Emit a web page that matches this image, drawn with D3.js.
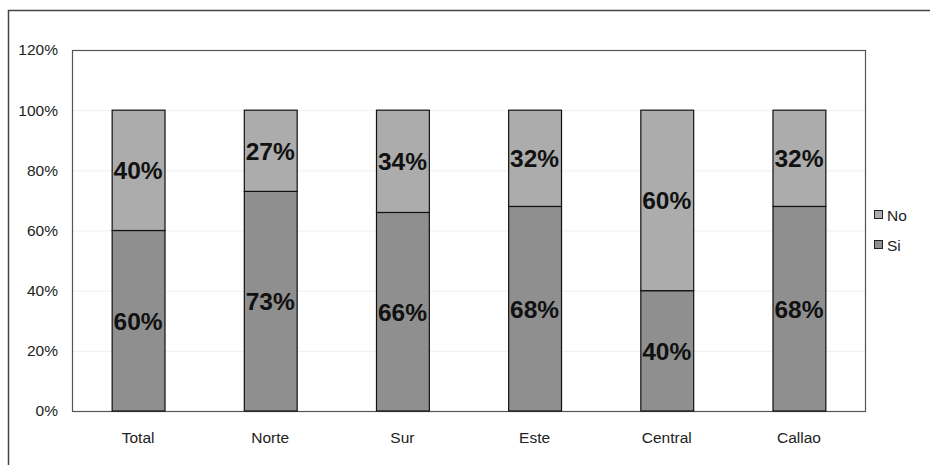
<!DOCTYPE html>
<html>
<head>
<meta charset="utf-8">
<script src="https://cdn.jsdelivr.net/npm/d3@7"></script>
<style>
  body { margin: 0; background: #fff; }
  svg { display: block; font-family: Arial, "Liberation Sans", sans-serif; }
</style>
</head>
<body>
<svg id="chart" width="930" height="465"></svg>
<script>
const categories = ['Total', 'Norte', 'Sur', 'Este', 'Central', 'Callao'];
const si = [60, 73, 66, 68, 40, 68];
const no = [40, 27, 34, 32, 60, 32];
const yTicks = [0, 20, 40, 60, 80, 100, 120];
const seriesNames = ['No', 'Si'];

const width = 930, height = 465;
const margin = {left: 72, right: 65, top: 50, bottom: 54};

let svg = d3.select('#chart');

// outer frame
svg.append('path')
    .attr('d', `M8.5,${height} V10.5 H${width}`)
    .attr('fill', 'none')
    .attr('stroke', '#444')
    .attr('stroke-width', 1.5);

let X = d3.scaleBand()
    .domain(categories)
    .range([margin.left, width - margin.right])
    .paddingInner(0.6)
    .paddingOuter(0.3);
let Y = d3.scaleLinear()
    .domain([0, 120])
    .range([height - margin.bottom, margin.top]);

// faint grid
svg.append('g').selectAll('line')
    .data(yTicks.slice(1, -1))
    .join('line')
    .attr('x1', margin.left)
    .attr('x2', width - margin.right)
    .attr('y1', d => Y(d) + 0.5)
    .attr('y2', d => Y(d) + 0.5)
    .attr('stroke', '#efefef');

// plot area box
svg.append('rect')
    .attr('x', margin.left + 0.5)
    .attr('y', Y(120) + 0.5)
    .attr('width', width - margin.right - margin.left)
    .attr('height', Y(0) - Y(120))
    .attr('fill', 'none')
    .attr('stroke', '#555')
    .attr('stroke-width', 1.2);

let yAxis = d3.axisLeft(Y).tickValues(yTicks).tickSize(0).tickPadding(14).tickFormat(d => d + '%');
svg.append('g')
    .attr('transform', `translate(${margin.left},0)`)
    .call(yAxis)
    .call(g => g.select('.domain').remove())
    .selectAll('text')
    .attr('font-size', 15.5)
    .attr('fill', '#222')
    .attr('font-family', 'Arial, "Liberation Sans", sans-serif');

let xAxis = d3.axisBottom(X).tickSize(0).tickPadding(21);
svg.append('g')
    .attr('transform', `translate(0,${Y(0)})`)
    .call(xAxis)
    .call(g => g.select('.domain').remove())
    .selectAll('text')
    .attr('font-size', 15.5)
    .attr('fill', '#222')
    .attr('font-family', 'Arial, "Liberation Sans", sans-serif');

const siColor = '#8f8f8f', noColor = '#acacac';

let bars = svg.append('g').selectAll('g')
    .data(categories.map((c, i) => ({c, si: si[i], no: no[i]})))
    .join('g');

bars.append('rect')
    .attr('x', d => X(d.c) + 0.5)
    .attr('y', d => Y(d.si))
    .attr('width', X.bandwidth())
    .attr('height', d => Y(0) - Y(d.si))
    .attr('fill', siColor)
    .attr('stroke', '#111')
    .attr('stroke-width', 1.2);
bars.append('rect')
    .attr('x', d => X(d.c) + 0.5)
    .attr('y', d => Y(d.si + d.no))
    .attr('width', X.bandwidth())
    .attr('height', d => Y(d.si) - Y(d.si + d.no))
    .attr('fill', noColor)
    .attr('stroke', '#111')
    .attr('stroke-width', 1.2);

bars.append('text')
    .attr('x', d => X(d.c) + X.bandwidth() / 2)
    .attr('y', d => Y(d.si / 2))
    .attr('dy', '0.36em')
    .attr('text-anchor', 'middle')
    .attr('font-size', 24.5)
    .attr('font-weight', 'bold')
    .attr('fill', '#111')
    .text(d => d.si + '%');
bars.append('text')
    .attr('x', d => X(d.c) + X.bandwidth() / 2)
    .attr('y', d => Y(d.si + d.no / 2))
    .attr('dy', '0.36em')
    .attr('text-anchor', 'middle')
    .attr('font-size', 24.5)
    .attr('font-weight', 'bold')
    .attr('fill', '#111')
    .text(d => d.no + '%');

// legend
let legend = svg.append('g').selectAll('g')
    .data(seriesNames)
    .join('g')
    .attr('transform', (d, i) => `translate(874,${215 + i * 30})`);
legend.append('rect')
    .attr('x', 0.5)
    .attr('y', -4.5)
    .attr('width', 8)
    .attr('height', 8)
    .attr('fill', d => d === 'No' ? noColor : siColor)
    .attr('stroke', '#222');
legend.append('text')
    .attr('x', 13)
    .attr('dy', '0.36em')
    .attr('font-size', 15.5)
    .attr('fill', '#222')
    .text(d => d);
</script>
</body>
</html>
